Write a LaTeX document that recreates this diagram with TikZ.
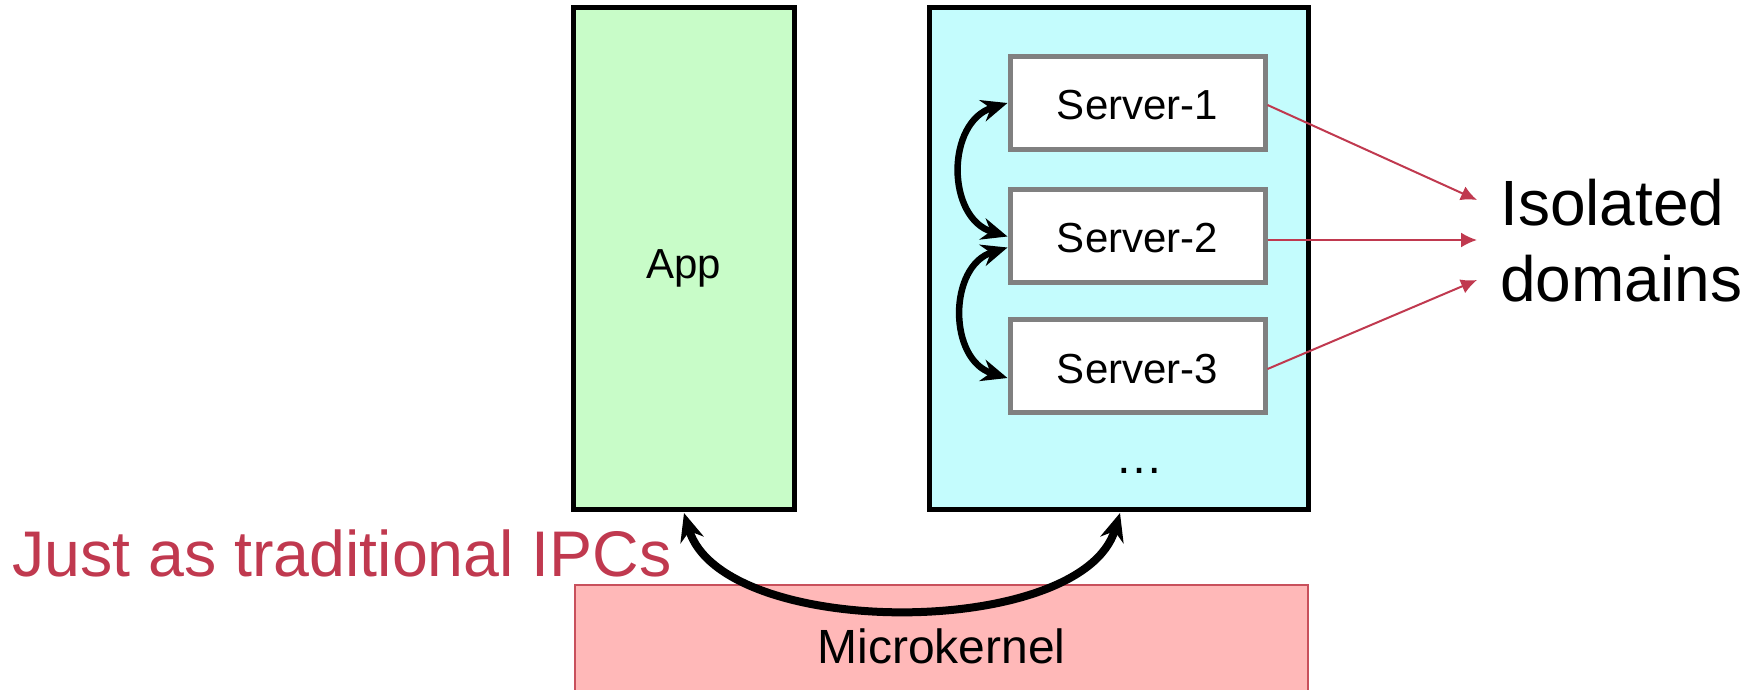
\documentclass[tikz,border=0pt]{standalone}
\usepackage{fontspec}
\setmainfont{Liberation Sans}
\usetikzlibrary{arrows.meta}
\definecolor{appgreen}{HTML}{C8FCC8}
\definecolor{srvcyan}{HTML}{C4FCFD}
\definecolor{kernpink}{HTML}{FFB8B8}
\definecolor{kernedge}{HTML}{C8505C}
\definecolor{crimson}{HTML}{C0394F}
\definecolor{srvgray}{HTML}{808080}
\newcommand{\lowered}[2]{\raisebox{#1}[0pt][0pt]{#2}}
\tikzset{
  bigbox/.style={draw=black, line width=5pt, inner sep=0pt},
  srvbox/.style={draw=srvgray, fill=white, line width=5pt, minimum width=255pt, minimum height=93pt, inner sep=0pt,
    font=\fontsize{42}{50}\selectfont},
  ipc/.style={line width=6.5pt, {Stealth[length=26pt,width=22pt]}-{Stealth[length=26pt,width=22pt]}},
  redarr/.style={draw=crimson, line width=2pt, -{Latex[length=16pt,width=15pt]}},
}
\begin{document}
\begin{tikzpicture}[x=1pt,y=-1pt]
\useasboundingbox (0,0) rectangle (1764,690);
% boxes
\node[bigbox, fill=appgreen, minimum width=221pt, minimum height=501pt, font=\fontsize{42}{50}\selectfont] (app) at (683.5,258.5) {\lowered{-20pt}{App}};
\node[bigbox, fill=srvcyan, minimum width=379pt, minimum height=501pt] (cont) at (1118.5,258.5) {};
\node[draw=kernedge, fill=kernpink, line width=1.5pt, minimum width=733pt, minimum height=106pt, inner sep=0pt,
  font=\fontsize{48}{55}\selectfont] (kern) at (941.5,638) {\lowered{-25pt}{Microkernel}};
\node[srvbox] (s1) at (1137.5,103) {\lowered{-17pt}{Server-1}};
\node[srvbox] (s2) at (1137.5,235.5) {\lowered{-17pt}{Server-2}};
\node[srvbox] (s3) at (1137.5,366) {\lowered{-17pt}{Server-3}};
\node[font=\fontsize{48}{50}\selectfont] (dots) at (1139,471) {\dots};
% texts
\node[anchor=west, align=left, inner sep=0pt, font=\fontsize{64}{76}\selectfont] (iso) at (1500,241) {Isolated\\domains};
\node[anchor=west, inner sep=0pt, text=crimson, font=\fontsize{64.5}{70}\selectfont] (just) at (12,553) {Just as traditional IPCs};
% ipc arrows between servers
\draw[ipc] (s1.west) .. controls (946,122) and (946,218) .. ([yshift=-1pt]s2.west);
\draw[ipc] ([yshift=-12pt]s2.west) .. controls (948,266) and (948,360) .. ([yshift=-12pt]s3.west);
% big ipc arrow
\coordinate (appbot) at (684,513);
\coordinate (contbot) at (1120,513);
\draw[line width=8pt, {Stealth[length=28pt,width=24pt]}-{Stealth[length=28pt,width=24pt]}] (appbot) .. controls (722,640) and (1082,640) .. (contbot);
% isolation arrows
\coordinate (t1) at (1477,200);
\coordinate (t2) at (1477,240);
\coordinate (t3) at (1477,280);
\draw[redarr] ([yshift=-2pt]s1.east) -- (t1);
\draw[redarr] ([yshift=-4.5pt]s2.east) -- (t2);
\draw[redarr] ([yshift=-3pt]s3.east) -- (t3);
\end{tikzpicture}
\end{document}
